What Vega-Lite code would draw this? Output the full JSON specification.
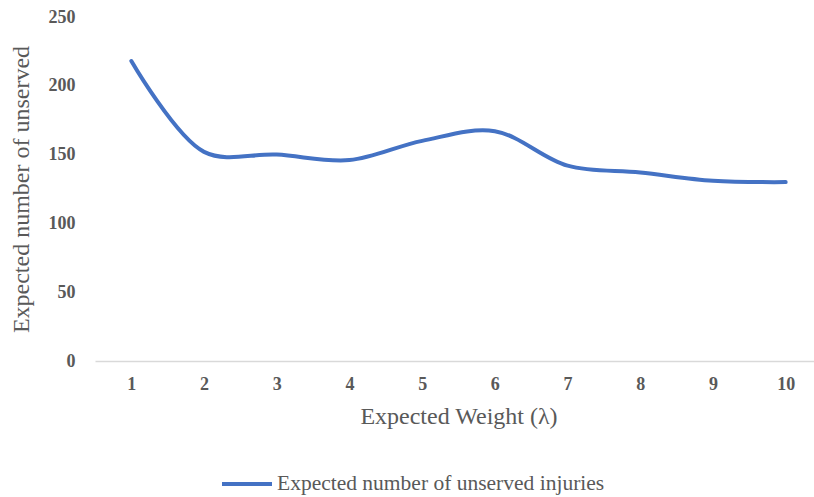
{
  "$schema": "https://vega.github.io/schema/vega-lite/v6.json",
  "autosize": "none",
  "width": 727,
  "height": 344,
  "padding": {"left": 95, "top": 17, "right": -8, "bottom": 136},
  "background": "white",
  "config": {
    "view": {"stroke": null},
    "font": "Liberation Serif"
  },
  "data": {
    "values": [
      {"w": "1", "v": 218, "s": "Expected number of unserved injuries"},
      {"w": "2", "v": 152, "s": "Expected number of unserved injuries"},
      {"w": "3", "v": 150, "s": "Expected number of unserved injuries"},
      {"w": "4", "v": 146, "s": "Expected number of unserved injuries"},
      {"w": "5", "v": 160, "s": "Expected number of unserved injuries"},
      {"w": "6", "v": 167, "s": "Expected number of unserved injuries"},
      {"w": "7", "v": 142, "s": "Expected number of unserved injuries"},
      {"w": "8", "v": 137, "s": "Expected number of unserved injuries"},
      {"w": "9", "v": 131, "s": "Expected number of unserved injuries"},
      {"w": "10", "v": 130, "s": "Expected number of unserved injuries"}
    ]
  },
  "mark": {"type": "line", "interpolate": "catmull-rom", "strokeWidth": 4, "strokeCap": "round"},
  "encoding": {
    "x": {
      "field": "w", "type": "ordinal", "sort": null,
      "scale": {"type": "point", "padding": 0.5},
      "axis": {
        "title": "Expected Weight (λ)", "labelAngle": 0, "ticks": false, "grid": false,
        "domainColor": "#d9d9d9", "domainWidth": 1.5,
        "labelFont": "Liberation Serif", "labelFontSize": 18, "labelFontWeight": "bold", "labelColor": "#595959", "labelPadding": 14,
        "titleFont": "Liberation Serif", "titleFontSize": 24, "titleFontWeight": "normal", "titleColor": "#595959", "titlePadding": 11
      }
    },
    "y": {
      "field": "v", "type": "quantitative",
      "scale": {"domain": [0, 250]},
      "axis": {
        "title": "Expected number of unserved", "values": [0, 50, 100, 150, 200, 250],
        "domain": false, "ticks": false, "grid": false,
        "labelFont": "Liberation Serif", "labelFontSize": 18, "labelFontWeight": "bold", "labelColor": "#595959", "labelPadding": 20,
        "titleFont": "Liberation Serif", "titleFontSize": 24, "titleFontWeight": "normal", "titleColor": "#595959", "titlePadding": 15
      }
    },
    "color": {
      "field": "s", "type": "nominal",
      "scale": {"range": ["#4472C4"]},
      "legend": {
        "title": null, "orient": "none", "legendX": 125, "legendY": 440,
        "symbolType": "stroke", "symbolStrokeWidth": 4, "symbolSize": 2500,
        "labelFont": "Liberation Serif", "labelFontSize": 21.5, "labelColor": "#595959", "labelOffset": 3, "labelLimit": 600
      }
    }
  }
}
